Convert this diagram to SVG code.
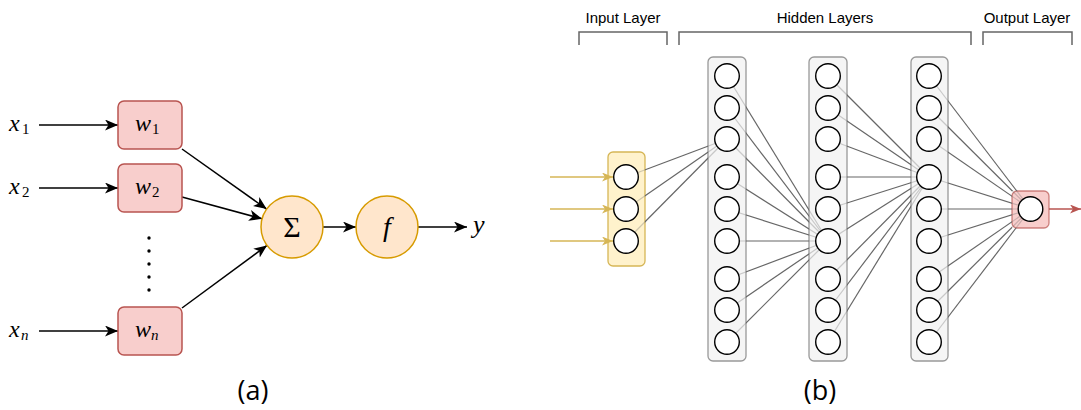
<svg xmlns="http://www.w3.org/2000/svg" width="1081" height="410" viewBox="0 0 1081 410">
<style>
.m{font-family:"Liberation Serif","Times New Roman",serif;font-style:italic;fill:#000}
.sub{font-family:"Liberation Serif","Times New Roman",serif;font-size:15px;fill:#000}
.lbl{font-family:"Liberation Sans",Arial,sans-serif;font-size:15px;fill:#000;text-anchor:middle}
.cap{font-family:"Open Sans","Noto Sans",sans-serif;font-size:27px;fill:#000;text-anchor:middle}
.wbox{fill:#f8cecc;stroke:#b85450;stroke-width:1.5}
.op{fill:#ffe6cc;stroke:#d79b00;stroke-width:1.5}
.arr{stroke:#000;stroke-width:1.5;fill:none;marker-end:url(#ah)}
.lay{fill:#f5f5f5;stroke:#999;stroke-width:1.3}
.neu{fill:#fff;stroke:#000;stroke-width:1.4}
.br{fill:none;stroke:#666;stroke-width:1.5}
.ln{stroke:#666;stroke-width:1.2}
</style>
<defs>
<marker id="ah" markerUnits="userSpaceOnUse" markerWidth="14" markerHeight="12" refX="13" refY="5.5" orient="auto">
<path d="M0,0 L13,5.5 L0,11 L3.5,5.5 z" fill="#000"/>
</marker>
<marker id="ag" markerUnits="userSpaceOnUse" markerWidth="12" markerHeight="10" refX="11" refY="4.5" orient="auto">
<path d="M0,0 L11,4.5 L0,9 L3,4.5 z" fill="#d6b656"/>
</marker>
<marker id="ar" markerUnits="userSpaceOnUse" markerWidth="12" markerHeight="10" refX="11" refY="4.5" orient="auto">
<path d="M0,0 L11,4.5 L0,9 L3,4.5 z" fill="#b85450"/>
</marker>
<mask id="bx" maskUnits="userSpaceOnUse" x="0" y="0" width="1081" height="410">
<rect x="0" y="0" width="1081" height="410" fill="#fff"/>
<g fill="#505050">
<rect x="608" y="152" width="37" height="114"/>
<rect x="708" y="57" width="38" height="304"/>
<rect x="809" y="57" width="38" height="304"/>
<rect x="911" y="57" width="37" height="304"/>
<rect x="1012" y="191" width="37" height="37"/>
</g>
</mask>
</defs>
<rect width="1081" height="410" fill="#fff"/>

<!-- (a) -->
<g id="a-connectors">
<line class="arr" x1="39" y1="125" x2="118" y2="125"/>
<line class="arr" x1="39" y1="188" x2="118" y2="188"/>
<line class="arr" x1="39" y1="331" x2="118" y2="331"/>
<line class="arr" x1="182" y1="149" x2="266.7" y2="209.1"/>
<line class="arr" x1="182" y1="197" x2="262.1" y2="218.8"/>
<line class="arr" x1="182" y1="308" x2="267" y2="245.4"/>
<line class="arr" x1="323" y1="227" x2="356" y2="227"/>
<line class="arr" x1="418" y1="227" x2="467" y2="227"/>
</g>
<g id="x1"><text class="m" x="9" y="131" font-size="24">x</text><text class="sub" x="22" y="134">1</text></g>
<g id="x2"><text class="m" x="9" y="194" font-size="24">x</text><text class="sub" x="22" y="197">2</text></g>
<g id="xn"><text class="m" x="9" y="337" font-size="24">x</text><text class="sub" x="21" y="340" font-style="italic">n</text></g>
<g id="w1"><rect class="wbox" x="118" y="101" width="64" height="48" rx="6"/><text class="m" x="135" y="131" font-size="24">w</text><text class="sub" x="152" y="134">1</text></g>
<g id="w2"><rect class="wbox" x="118" y="164" width="64" height="48" rx="6"/><text class="m" x="135" y="194" font-size="24">w</text><text class="sub" x="152" y="197">2</text></g>
<g id="wn"><rect class="wbox" x="118" y="307" width="64" height="48" rx="6"/><text class="m" x="135" y="337" font-size="24">w</text><text class="sub" x="151" y="340" font-style="italic">n</text></g>
<g id="dots" fill="#000">
<circle cx="149" cy="238" r="1.7"/><circle cx="149" cy="251" r="1.7"/><circle cx="149" cy="264" r="1.7"/><circle cx="149" cy="277" r="1.7"/><circle cx="149" cy="290" r="1.7"/>
</g>
<g id="sum"><circle class="op" cx="292" cy="227" r="31"/><text x="292" y="236.5" font-family="'Liberation Serif','Times New Roman',serif" font-size="30" text-anchor="middle">Σ</text></g>
<g id="f"><circle class="op" cx="387" cy="227" r="31"/><text class="m" x="387" y="236" font-size="28" text-anchor="middle">f</text></g>
<g id="y"><text class="m" x="473" y="233" font-size="26">y</text></g>
<g id="cap-a"><text class="cap" x="253" y="400">(a)</text></g>

<!-- (b) headers -->
<g id="hdr-input"><text class="lbl" x="623" y="23">Input Layer</text><path class="br" d="M579,45 V32 H667 V45"/></g>
<g id="hdr-hidden"><text class="lbl" x="825" y="23">Hidden Layers</text><path class="br" d="M679,45 V32 H971 V45"/></g>
<g id="hdr-output"><text class="lbl" x="1027" y="23">Output Layer</text><path class="br" d="M983,45 V32 H1072 V45"/></g>

<!-- layer containers -->
<g id="layer-input"><rect x="608" y="152" width="37" height="114" rx="5" fill="#fff2cc" stroke="#d6b656" stroke-width="1.3"/></g>
<g id="layer-h1"><rect class="lay" x="708" y="57" width="38" height="304" rx="5"/></g>
<g id="layer-h2"><rect class="lay" x="809" y="57" width="38" height="304" rx="5"/></g>
<g id="layer-h3"><rect class="lay" x="911" y="57" width="37" height="304" rx="5"/></g>
<g id="layer-output"><rect x="1012" y="191" width="37" height="37" rx="5" fill="#f8cecc" stroke="#b85450" stroke-opacity="0.7" stroke-width="1.3"/></g>

<g id="b-connectors">
<g class="ln" mask="url(#bx)">
<line x1="626" y1="177" x2="727" y2="139"/>
<line x1="626" y1="209" x2="727" y2="139"/>
<line x1="626" y1="241" x2="727" y2="139"/>
<line x1="727" y1="76" x2="828" y2="241"/>
<line x1="727" y1="108" x2="828" y2="241"/>
<line x1="727" y1="139" x2="828" y2="241"/>
<line x1="727" y1="177" x2="828" y2="241"/>
<line x1="727" y1="209" x2="828" y2="241"/>
<line x1="727" y1="241" x2="828" y2="241"/>
<line x1="727" y1="279" x2="828" y2="241"/>
<line x1="727" y1="310" x2="828" y2="241"/>
<line x1="727" y1="342" x2="828" y2="241"/>
<line x1="828" y1="76" x2="929" y2="177"/>
<line x1="828" y1="108" x2="929" y2="177"/>
<line x1="828" y1="139" x2="929" y2="177"/>
<line x1="828" y1="177" x2="929" y2="177"/>
<line x1="828" y1="209" x2="929" y2="177"/>
<line x1="828" y1="241" x2="929" y2="177"/>
<line x1="828" y1="279" x2="929" y2="177"/>
<line x1="828" y1="310" x2="929" y2="177"/>
<line x1="828" y1="342" x2="929" y2="177"/>
<line x1="929" y1="76" x2="1030.5" y2="209"/>
<line x1="929" y1="108" x2="1030.5" y2="209"/>
<line x1="929" y1="139" x2="1030.5" y2="209"/>
<line x1="929" y1="177" x2="1030.5" y2="209"/>
<line x1="929" y1="209" x2="1030.5" y2="209"/>
<line x1="929" y1="241" x2="1030.5" y2="209"/>
<line x1="929" y1="279" x2="1030.5" y2="209"/>
<line x1="929" y1="310" x2="1030.5" y2="209"/>
<line x1="929" y1="342" x2="1030.5" y2="209"/>
</g>
<g stroke="#d6b656" stroke-width="1.5" marker-end="url(#ag)">
<line x1="550" y1="177" x2="613" y2="177"/>
<line x1="550" y1="209" x2="613" y2="209"/>
<line x1="550" y1="241" x2="613" y2="241"/>
</g>
<line x1="1049" y1="209" x2="1081" y2="209" stroke="#b85450" stroke-width="1.5" marker-end="url(#ar)"/>
</g>

<g id="in-neurons">
<circle class="neu" cx="626" cy="177" r="12.3"/><circle class="neu" cx="626" cy="209" r="12.3"/><circle class="neu" cx="626" cy="241" r="12.3"/>
</g>
<g id="h1-neurons">
<circle class="neu" cx="727" cy="76" r="12.3"/><circle class="neu" cx="727" cy="108" r="12.3"/><circle class="neu" cx="727" cy="139" r="12.3"/>
<circle class="neu" cx="727" cy="177" r="12.3"/><circle class="neu" cx="727" cy="209" r="12.3"/><circle class="neu" cx="727" cy="241" r="12.3"/>
<circle class="neu" cx="727" cy="279" r="12.3"/><circle class="neu" cx="727" cy="310" r="12.3"/><circle class="neu" cx="727" cy="342" r="12.3"/>
</g>
<g id="h2-neurons">
<circle class="neu" cx="828" cy="76" r="12.3"/><circle class="neu" cx="828" cy="108" r="12.3"/><circle class="neu" cx="828" cy="139" r="12.3"/>
<circle class="neu" cx="828" cy="177" r="12.3"/><circle class="neu" cx="828" cy="209" r="12.3"/><circle class="neu" cx="828" cy="241" r="12.3"/>
<circle class="neu" cx="828" cy="279" r="12.3"/><circle class="neu" cx="828" cy="310" r="12.3"/><circle class="neu" cx="828" cy="342" r="12.3"/>
</g>
<g id="h3-neurons">
<circle class="neu" cx="929" cy="76" r="12.3"/><circle class="neu" cx="929" cy="108" r="12.3"/><circle class="neu" cx="929" cy="139" r="12.3"/>
<circle class="neu" cx="929" cy="177" r="12.3"/><circle class="neu" cx="929" cy="209" r="12.3"/><circle class="neu" cx="929" cy="241" r="12.3"/>
<circle class="neu" cx="929" cy="279" r="12.3"/><circle class="neu" cx="929" cy="310" r="12.3"/><circle class="neu" cx="929" cy="342" r="12.3"/>
</g>
<g id="out-neuron"><circle class="neu" cx="1030.5" cy="209" r="12.3"/></g>
<g id="cap-b"><text class="cap" x="820" y="400">(b)</text></g>
</svg>
